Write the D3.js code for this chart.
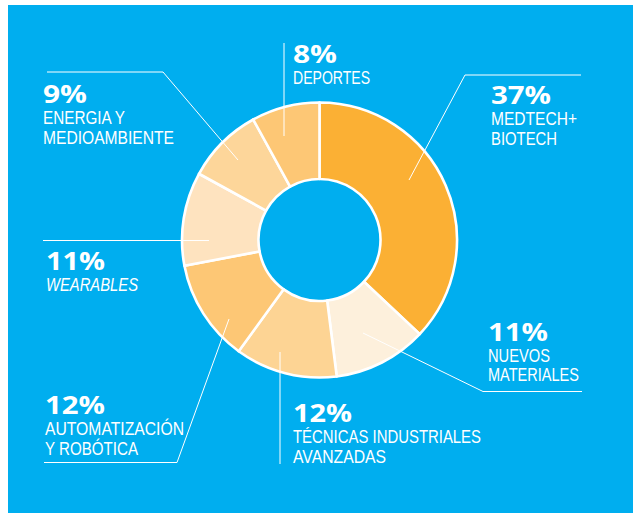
<!DOCTYPE html>
<html><head><meta charset="utf-8">
<script src="https://cdn.jsdelivr.net/npm/d3@7/dist/d3.min.js"></script>
<style>html,body{margin:0;padding:0;background:#fff;}svg{display:block;}</style>
</head><body>
<script>
// ---- data ----
const categories = ["MEDTECH+ BIOTECH","NUEVOS MATERIALES","TÉCNICAS INDUSTRIALES AVANZADAS","AUTOMATIZACIÓN Y ROBÓTICA","WEARABLES","ENERGIA Y MEDIOAMBIENTE","DEPORTES"];
const values = [37, 11, 12, 12, 11, 9, 8];
const labelLines = [["MEDTECH+","BIOTECH"],["NUEVOS","MATERIALES"],["TÉCNICAS INDUSTRIALES","AVANZADAS"],["AUTOMATIZACIÓN","Y ROBÓTICA"],["WEARABLES"],["ENERGIA Y","MEDIOAMBIENTE"],["DEPORTES"]];
const sliceColors = ["#FBB034","#FDF0DC","#FDD494","#FDC775","#FEE3BF","#FDD69A","#FDC775"];

// ---- layout (annotation positions) ----
const W = 633, H = 513, cx = 319.5, cy = 240, rOuter = 137.5, rInner = 61;
const labelLayout = [
  {x:491, y:104, w:[60,86,66], italic:false, leader:[[581,75],[465,75],[409,180]]},
  {x:488, y:340.5, w:[60,62,91], italic:false, leader:[[582,391.5],[483,391.5],[363,333]]},
  {x:293, y:422, w:[59,188,93], italic:false, leader:[[280,464],[280,352]]},
  {x:45, y:414, w:[60,139,93], italic:false, leader:[[44,462.5],[177,462.5],[229,319]]},
  {x:46, y:270, w:[59,92], italic:true, leader:[[43,240.5],[209,240.5]]},
  {x:43, y:103, w:[44,82,131], italic:false, leader:[[47,72],[163,72],[238,160]]},
  {x:293, y:63, w:[44,77], italic:false, leader:[[284,43],[284,136]]}
];

const svg = d3.select("body").append("svg").attr("width", W).attr("height", H);
svg.append("rect").attr("x", 8).attr("y", 5).attr("width", W - 8).attr("height", H - 5).attr("fill", "#00AEEF");

const pie = d3.pie().sort(null).value(d => d);
const arc = d3.arc().innerRadius(rInner).outerRadius(rOuter);
const g = svg.append("g").attr("transform", `translate(${cx},${cy})`);
g.selectAll("path").data(pie(values)).join("path")
  .attr("d", arc)
  .attr("fill", (d, i) => sliceColors[i])
  .attr("stroke", "#fff").attr("stroke-width", 2.6).attr("stroke-linejoin", "round");

const line = d3.line();
svg.append("g").selectAll("path").data(labelLayout).join("path")
  .attr("d", d => line(d.leader))
  .attr("fill", "none").attr("stroke", "#fff").attr("stroke-width", 1);

const lg = svg.append("g").selectAll("g").data(labelLayout).join("g");
lg.append("text")
  .attr("x", d => d.x).attr("y", d => d.y)
  .attr("fill", "#fff")
  .attr("font-family", "'Open Sans', sans-serif").attr("font-weight", 700).attr("font-size", 24.5)
  .attr("textLength", d => d.w[0]).attr("lengthAdjust", "spacingAndGlyphs")
  .text((d, i) => values[i] + "%");
lg.each(function(d, i) {
  const sel = d3.select(this);
  labelLines[i].forEach((t, j) => {
    sel.append("text")
      .attr("x", d.x).attr("y", d.y + 21 + j * 19.5)
      .attr("fill", "#fff")
      .attr("font-family", "'Liberation Sans Narrow', 'Liberation Sans', sans-serif").attr("font-size", 17.5)
      .attr("font-style", d.italic ? "italic" : "normal")
      .attr("textLength", d.w[j + 1]).attr("lengthAdjust", "spacingAndGlyphs")
      .text(t);
  });
});
</script>
</body></html>
